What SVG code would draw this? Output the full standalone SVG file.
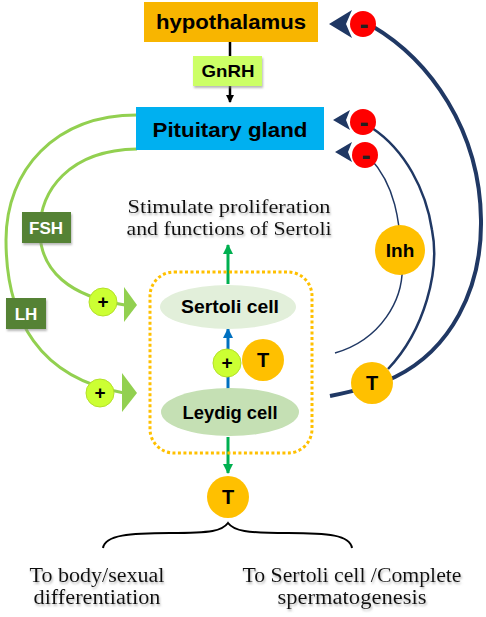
<svg xmlns="http://www.w3.org/2000/svg" width="486" height="617" viewBox="0 0 486 617">
<defs>
<style>
.b{font-family:"Liberation Sans","Arial",sans-serif;font-weight:bold;text-anchor:middle}
.s{font-family:"Liberation Serif","Times New Roman",serif;text-anchor:middle;fill:#111}
.g{fill:none;stroke:#92D050;stroke-width:3}
.n{fill:none;stroke:#203864}
.red{fill:#FF0000}
.lime{fill:#CCFF33;stroke:#B4E02A;stroke-width:1}
.org{fill:#FFC000}
</style>
<filter id="sh" x="-10%" y="-30%" width="120%" height="170%"><feDropShadow dx="1" dy="2" stdDeviation="1.2" flood-color="#888" flood-opacity="0.6"/></filter>
<marker id="ak" markerWidth="8" markerHeight="8" refX="7" refY="4" orient="auto" markerUnits="userSpaceOnUse"><path d="M0,0 L8,4 L0,8 Z" fill="#000"/></marker>
<marker id="agr" markerWidth="10" markerHeight="10" refX="9" refY="5" orient="auto" markerUnits="userSpaceOnUse"><path d="M0,0 L10,5 L0,10 Z" fill="#00B050"/></marker>
<marker id="abl" markerWidth="10" markerHeight="10" refX="9" refY="5" orient="auto" markerUnits="userSpaceOnUse"><path d="M0,0 L10,5 L0,10 Z" fill="#0070C0"/></marker>
</defs>

<g id="connectors">
  <line x1="230" y1="42" x2="230" y2="56" stroke="#000" stroke-width="2.5"/>
  <line x1="230" y1="86" x2="230" y2="102" stroke="#000" stroke-width="2.5" marker-end="url(#ak)"/>
  <path class="g" d="M137 149 C70 150 38 190 40 235 C42 270 68 296 125 305"/>
  <path class="g" d="M137 115 C55 115 6 170 6 240 C6 320 40 378 124 393"/>
  <polygon points="124,287 137,305 124,322" fill="#92D050"/>
  <polygon points="122,373 137,393 122,412" fill="#92D050"/>
  <path class="n" stroke-width="4" d="M330 396 C355 391 378 385 395 377 C450 350 482 290 481 220 C480 130 430 60 372 26"/>
  <path class="n" stroke-width="2.5" d="M388 369 C425 330 440 270 432 230 C426 190 405 150 372 128"/>
  <path class="n" stroke-width="1.5" d="M335 353 C380 340 405 300 402 262 C400 220 395 185 370 158"/>
  <polygon points="329,24 352,10 346,24 352,38" fill="#203864"/>
  <polygon points="333,120 350,110 346,120 350,130" fill="#203864"/>
  <polygon points="335,152 352,142 348,152 352,162" fill="#203864"/>
  <line x1="228" y1="284" x2="228" y2="245" stroke="#00B050" stroke-width="3" marker-end="url(#agr)"/>
  <line x1="228" y1="389" x2="228" y2="329" stroke="#0070C0" stroke-width="3" marker-end="url(#abl)"/>
  <line x1="228" y1="437" x2="228" y2="473" stroke="#00B050" stroke-width="3" marker-end="url(#agr)"/>
  <path d="M103 548 C105 535 130 533 170 533 C212 533 222 531 228 523 C234 531 246 533 288 533 C328 533 350 535 352 548" fill="none" stroke="#000" stroke-width="2"/>
</g>

<g id="hypothalamus">
  <rect x="144" y="2" width="174" height="40" fill="#F8B500"/>
  <text class="b" x="231" y="29" font-size="21" textLength="150" lengthAdjust="spacingAndGlyphs">hypothalamus</text>
</g>
<g id="gnrh">
  <rect x="193" y="56" width="69" height="30" fill="#CCFF66" filter="url(#sh)"/>
  <text class="b" x="228" y="77" font-size="17" textLength="53" lengthAdjust="spacingAndGlyphs">GnRH</text>
</g>
<g id="pituitary">
  <rect x="136" y="107" width="188" height="43" fill="#00B0F0"/>
  <text class="b" x="230" y="137" font-size="21" textLength="155" lengthAdjust="spacingAndGlyphs">Pituitary gland</text>
</g>
<g id="fsh">
  <rect x="22" y="212" width="49" height="31" fill="#548235" filter="url(#sh)"/>
  <text class="b" x="46" y="234" font-size="17" fill="#fff">FSH</text>
</g>
<g id="lh">
  <rect x="6" y="298" width="40" height="31" fill="#548235" filter="url(#sh)"/>
  <text class="b" x="26" y="320" font-size="17" fill="#fff">LH</text>
</g>
<g id="plus-fsh">
  <circle class="lime" cx="103" cy="302" r="14"/>
  <text class="b" x="103" y="308" font-size="19">+</text>
</g>
<g id="plus-lh">
  <circle class="lime" cx="100" cy="393" r="14"/>
  <text class="b" x="100" y="399" font-size="19">+</text>
</g>
<g id="minus-1">
  <circle class="red" cx="363" cy="24" r="13"/>
  <text class="b" x="364" y="34" font-size="27" fill="#222">-</text>
</g>
<g id="minus-2">
  <circle class="red" cx="363" cy="122" r="13"/>
  <text class="b" x="364" y="132" font-size="27" fill="#222">-</text>
</g>
<g id="minus-3">
  <circle class="red" cx="365" cy="155" r="13"/>
  <text class="b" x="366" y="165" font-size="27" fill="#222">-</text>
</g>
<g id="inh">
  <circle class="org" cx="400" cy="250" r="25"/>
  <text class="b" x="400" y="257" font-size="19">Inh</text>
</g>
<g id="stimulate-label">
  <text class="s" font-size="19" filter="url(#sh)"><tspan x="229" y="213" textLength="203" lengthAdjust="spacingAndGlyphs">Stimulate proliferation</tspan><tspan x="229" y="235" textLength="205" lengthAdjust="spacingAndGlyphs">and functions of Sertoli</tspan></text>
</g>
<g id="testis-box">
  <rect x="150" y="272" width="162" height="181" rx="24" fill="none" stroke="#FFC000" stroke-width="3" stroke-dasharray="3 2.5"/>
</g>
<g id="sertoli">
  <ellipse cx="228" cy="307" rx="68" ry="22" fill="#E2EFDA"/>
  <text class="b" x="230" y="313" font-size="18" textLength="98" lengthAdjust="spacingAndGlyphs">Sertoli cell</text>
</g>
<g id="plus-mid">
  <circle class="lime" cx="227" cy="363" r="14"/>
  <text class="b" x="227" y="369" font-size="19">+</text>
</g>
<g id="t-mid">
  <circle class="org" cx="263" cy="360" r="21"/>
  <text class="b" x="263" y="367" font-size="20">T</text>
</g>
<g id="leydig">
  <ellipse cx="230" cy="412" rx="69" ry="24" fill="#C5E0B4"/>
  <text class="b" x="230" y="419" font-size="18" textLength="95" lengthAdjust="spacingAndGlyphs">Leydig cell</text>
</g>
<g id="t-right">
  <circle class="org" cx="372" cy="383" r="21"/>
  <text class="b" x="372" y="390" font-size="20">T</text>
</g>
<g id="t-bottom">
  <circle class="org" cx="228" cy="497" r="21"/>
  <text class="b" x="228" y="504" font-size="20">T</text>
</g>
<g id="outcome-left">
  <text class="s" font-size="20" filter="url(#sh)"><tspan x="97" y="582" textLength="135" lengthAdjust="spacingAndGlyphs">To body/sexual</tspan><tspan x="97" y="604" textLength="127" lengthAdjust="spacingAndGlyphs">differentiation</tspan></text>
</g>
<g id="outcome-right">
  <text class="s" font-size="20" filter="url(#sh)"><tspan x="352" y="582" textLength="219" lengthAdjust="spacingAndGlyphs">To Sertoli cell /Complete</tspan><tspan x="352" y="604" textLength="149" lengthAdjust="spacingAndGlyphs">spermatogenesis</tspan></text>
</g>
</svg>
